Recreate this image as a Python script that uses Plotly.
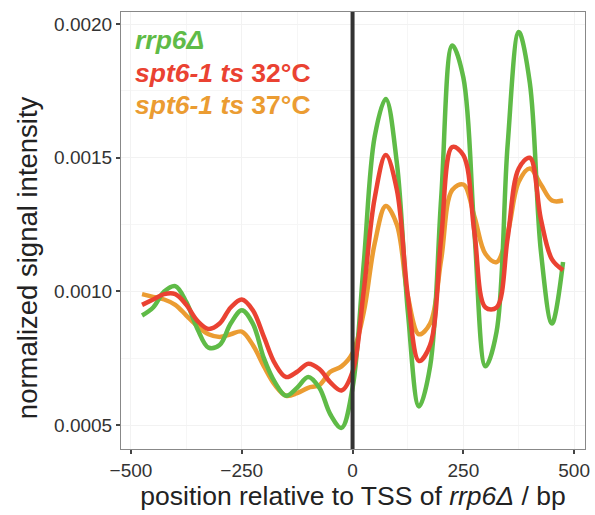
import plotly.graph_objects as go

positions = [-475, -450, -425, -400, -375, -350, -325, -300, -275, -250, -225, -200,
             -175, -150, -125, -100, -75, -50, -25, 0, 25, 50, 75, 100, 125, 150,
             175, 200, 225, 250, 275, 300, 325, 350, 375, 400, 425, 450, 475]

rrp6 = [0.00091, 0.00094, 0.00100, 0.00102, 0.00096, 0.00086, 0.00079, 0.00080, 0.00088,
        0.00093, 0.00088, 0.00075, 0.00066, 0.00061, 0.00064, 0.00068, 0.00064, 0.00054,
        0.00049, 0.00064, 0.00110, 0.00158, 0.00172, 0.00148, 0.00092, 0.00057, 0.00072,
        0.00135, 0.00192, 0.00180, 0.00122, 0.00072, 0.00085, 0.00155, 0.00197, 0.00178,
        0.00115, 0.00088, 0.00111]

spt6_32 = [0.00095, 0.00097, 0.00099, 0.00099, 0.00095, 0.00089, 0.00086, 0.00088, 0.00094,
           0.00097, 0.00093, 0.00083, 0.00073, 0.00068, 0.00070, 0.00073, 0.00071, 0.00066,
           0.00063, 0.00070, 0.00100, 0.00135, 0.00151, 0.00138, 0.00098, 0.00074, 0.00080,
           0.00120, 0.00154, 0.00151, 0.00122, 0.00094, 0.00094, 0.00120, 0.00146, 0.00150,
           0.00127, 0.00112, 0.00108]

spt6_37 = [0.00099, 0.00098, 0.00097, 0.00095, 0.00091, 0.00087, 0.00084, 0.00083, 0.00084,
           0.00085, 0.00080, 0.00072, 0.00065, 0.00061, 0.00062, 0.00064, 0.00065, 0.00070,
           0.00072, 0.00077, 0.00092, 0.00118, 0.00132, 0.00125, 0.00098, 0.00084, 0.00088,
           0.00112, 0.00138, 0.00140, 0.00128, 0.00114, 0.00111, 0.00122, 0.00141, 0.00146,
           0.00140, 0.00134, 0.00134]

x_ticks = [-500, -250, 0, 250, 500]
x_tick_labels = ["\u2212500", "\u2212250", "0", "250", "500"]
y_ticks = [0.0005, 0.0010, 0.0015, 0.0020]
y_tick_labels = ["0.0005", "0.0010", "0.0015", "0.0020"]

GREEN = "#5FBB47"
RED = "#EA4232"
ORANGE = "#EB9C32"

fig = go.Figure()
for name, ys, col in [("spt6-1 ts 37°C", spt6_37, ORANGE),
                      ("rrp6Δ", rrp6, GREEN),
                      ("spt6-1 ts 32°C", spt6_32, RED)]:
    fig.add_trace(go.Scatter(x=positions, y=ys, mode="lines", name=name,
                             line=dict(color=col, width=4.5, shape="spline", smoothing=1.0)))

fig.add_shape(type="line", x0=0, x1=0, y0=0, y1=1, xref="x", yref="paper",
              line=dict(color="#333333", width=4))

FONT = "Liberation Sans, Arial, sans-serif"
legend_items = [
    ("<b><i>rrp6Δ</i></b>", GREEN, 0.936),
    ("<b><i>spt6-1 ts</i> 32°C</b>", RED, 0.860),
    ("<b><i>spt6-1 ts</i> 37°C</b>", ORANGE, 0.787),
]
for txt, col, yy in legend_items:
    fig.add_annotation(text=txt, x=0.025, y=yy, xref="paper", yref="paper",
                       xanchor="left", yanchor="middle", showarrow=False,
                       font=dict(family=FONT, size=26.5, color=col))

# y-axis title (placed as rotated text, centred like the reference)
fig.add_annotation(text="normalized signal intensity", x=-0.2026, y=0.439,
                   xref="paper", yref="paper", xanchor="center", yanchor="middle",
                   textangle=-90, showarrow=False,
                   font=dict(family=FONT, size=27.5, color="#222222"))

fig.update_layout(
    width=595, height=515,
    margin=dict(l=121, r=5, t=12, b=66),
    paper_bgcolor="white", plot_bgcolor="white",
    showlegend=False,
    font=dict(family=FONT, color="#222222"),
)
fig.update_xaxes(
    range=[-522.5, 524.5], tickvals=x_ticks, ticktext=x_tick_labels,
    ticks="outside", ticklen=4, tickcolor="#444444", tickwidth=1.5,
    tickfont=dict(size=19, color="#333333"),
    showgrid=True, gridcolor="#F2F2F2", gridwidth=1,
    minor=dict(tickvals=[-375, -125, 125, 375], showgrid=True, gridcolor="#F6F6F6", gridwidth=1, ticks=""),
    zeroline=False, showline=True, linecolor="#888888", linewidth=1, mirror=True,
    title=dict(text="position relative to TSS of <i>rrp6Δ</i> / bp",
               font=dict(size=26.5, color="#222222"), standoff=4),
)
fig.update_yaxes(
    range=[0.000411, 0.002045], tickvals=y_ticks, ticktext=y_tick_labels,
    ticks="outside", ticklen=4, tickcolor="#444444", tickwidth=1.5,
    tickfont=dict(size=19, color="#333333"),
    showgrid=True, gridcolor="#F2F2F2", gridwidth=1,
    minor=dict(tickvals=[0.00075, 0.00125, 0.00175], showgrid=True, gridcolor="#F6F6F6", gridwidth=1, ticks=""),
    zeroline=False, showline=True, linecolor="#888888", linewidth=1, mirror=True,
)

fig.write_html("out.html")
